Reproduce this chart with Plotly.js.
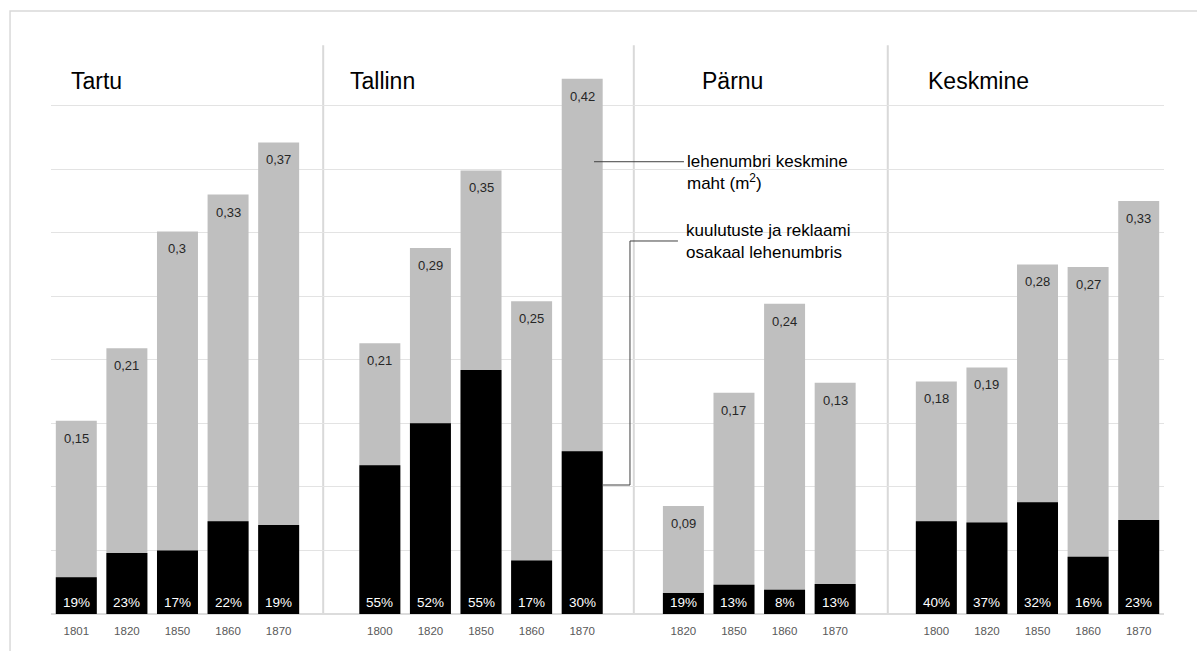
<!DOCTYPE html>
<html>
<head>
<meta charset="utf-8">
<script src="https://cdn.plot.ly/plotly-3.0.1.min.js"></script>
<style>
  html, body { margin: 0; padding: 0; background: #ffffff; }
  #chart { width: 1197px; height: 651px; }
</style>
</head>
<body>
<div id="chart"></div>
<script>
// ---- data ----
const groupNames = ["Tartu", "Tallinn", "Pärnu", "Keskmine"];

const tartuYears = ["1801", "1820", "1850", "1860", "1870"];
const tartuArea = [0.152, 0.209, 0.301, 0.330, 0.371];
const tartuAds = [0.029, 0.048, 0.050, 0.073, 0.070];
const tartuAreaLabels = ["0,15", "0,21", "0,3", "0,33", "0,37"];
const tartuShareLabels = ["19%", "23%", "17%", "22%", "19%"];

const tallinnYears = ["1800", "1820", "1850", "1860", "1870"];
const tallinnArea = [0.213, 0.288, 0.349, 0.246, 0.421];
const tallinnAds = [0.117, 0.150, 0.192, 0.042, 0.128];
const tallinnAreaLabels = ["0,21", "0,29", "0,35", "0,25", "0,42"];
const tallinnShareLabels = ["55%", "52%", "55%", "17%", "30%"];

const parnuYears = ["1820", "1850", "1860", "1870"];
const parnuArea = [0.085, 0.174, 0.244, 0.182];
const parnuAds = [0.0165, 0.023, 0.019, 0.0236];
const parnuAreaLabels = ["0,09", "0,17", "0,24", "0,13"];
const parnuShareLabels = ["19%", "13%", "8%", "13%"];

const keskYears = ["1800", "1820", "1850", "1860", "1870"];
const keskArea = [0.183, 0.194, 0.275, 0.273, 0.325];
const keskAds = [0.073, 0.072, 0.088, 0.045, 0.074];
const keskAreaLabels = ["0,18", "0,19", "0,28", "0,27", "0,33"];
const keskShareLabels = ["40%", "37%", "32%", "16%", "23%"];

const areaLegend = "lehenumbri keskmine<br>maht (m<sup>2</sup>)";
const adsLegend = "kuulutuste ja reklaami<br>osakaal lehenumbris";

// ---- build categories (unique keys, with empty gap slots between groups) ----
const groups = [
  { name: groupNames[0], years: tartuYears, area: tartuArea, ads: tartuAds, al: tartuAreaLabels, sl: tartuShareLabels },
  { name: groupNames[1], years: tallinnYears, area: tallinnArea, ads: tallinnAds, al: tallinnAreaLabels, sl: tallinnShareLabels },
  { name: groupNames[2], years: parnuYears, area: parnuArea, ads: parnuAds, al: parnuAreaLabels, sl: parnuShareLabels },
  { name: groupNames[3], years: keskYears, area: keskArea, ads: keskAds, al: keskAreaLabels, sl: keskShareLabels }
];

const cats = [], tickVals = [], tickText = [];
const xs = [], areaY = [], adsY = [], areaLab = [], shareLab = [];
const firstIdx = [];
groups.forEach((g, gi) => {
  if (gi > 0) { cats.push("gap" + gi); }
  firstIdx.push(cats.length);
  g.years.forEach((yr, i) => {
    const key = g.name + " " + yr;
    cats.push(key); tickVals.push(key); tickText.push(yr);
    xs.push(key); areaY.push(g.area[i]); adsY.push(g.ads[i]);
    areaLab.push(g.al[i]); shareLab.push(g.sl[i]);
  });
});

const traces = [
  { type: "bar", x: xs, y: areaY, marker: { color: "#bfbfbf" }, hoverinfo: "x+y", showlegend: false },
  { type: "bar", x: xs, y: adsY, marker: { color: "#000000" }, hoverinfo: "x+y", showlegend: false }
];

const FONT = "Liberation Sans, Arial, sans-serif";
const annotations = [];
xs.forEach((k, i) => {
  annotations.push({ x: k, y: areaY[i], xref: "x", yref: "y", text: areaLab[i], showarrow: false,
    yanchor: "top", yshift: -8, font: { family: FONT, size: 13, color: "#262626" } });
  annotations.push({ x: k, y: 0, xref: "x", yref: "y", text: shareLab[i], showarrow: false,
    yanchor: "bottom", yshift: 2, font: { family: FONT, size: 13.5, color: "#ffffff" } });
});

// group titles
const titleX = [0.0160, 0.2665, 0.5831, 0.7862];
groupNames.forEach((n, i) => {
  annotations.push({ x: titleX[i], y: 0.9318, xref: "paper", yref: "paper", text: n, showarrow: false,
    xanchor: "left", yanchor: "middle", font: { family: FONT, size: 23, color: "#000000" } });
});

annotations.push({ x: 0.5696, y: 0.7727, xref: "paper", yref: "paper", text: areaLegend, showarrow: false,
  xanchor: "left", yanchor: "middle", align: "left", font: { family: FONT, size: 17, color: "#000000" } });
annotations.push({ x: 0.5687, y: 0.6512, xref: "paper", yref: "paper", text: adsLegend, showarrow: false,
  xanchor: "left", yanchor: "middle", align: "left", font: { family: FONT, size: 17, color: "#000000" } });

const sepX = [firstIdx[1] - 1.12, firstIdx[2] - 0.98, firstIdx[3] - 0.96];
const shapes = [];
// outer frame
shapes.push({ type: "rect", xref: "paper", yref: "paper", x0: -0.0368, x1: 1.2, y0: -0.2, y1: 1.0542,
  line: { color: "#d9d9d9", width: 1.5 }, fillcolor: "rgba(0,0,0,0)", layer: "below" });
sepX.forEach(sx => {
  shapes.push({ type: "line", xref: "x", yref: "y", x0: sx, x1: sx, y0: 0, y1: 0.4475,
    line: { color: "#d9d9d9", width: 2 }, layer: "below" });
});
// callout lines
shapes.push({ type: "line", xref: "paper", yref: "paper", x0: 0.4879, x1: 0.5687, y0: 0.7907, y1: 0.7907,
  line: { color: "#404040", width: 1 } });
shapes.push({ type: "path", xref: "paper", yref: "paper",
  path: "M 0.4960,0.2255 L 0.5202,0.2255 L 0.5202,0.6521 L 0.5633,0.6521",
  line: { color: "#404040", width: 1 } });

const layout = {
  width: 1197, height: 651,
  margin: { l: 51, r: 33, t: 42, b: 37 },
  paper_bgcolor: "#ffffff", plot_bgcolor: "#ffffff",
  barmode: "overlay", bargap: 0.19,
  font: { family: FONT },
  xaxis: {
    type: "category", categoryorder: "array", categoryarray: cats,
    tickmode: "array", tickvals: tickVals, ticktext: tickText,
    tickfont: { size: 11.5, color: "#595959" },
    ticks: "outside", ticklen: 6, tickcolor: "rgba(0,0,0,0)",
    showgrid: false, showline: false, zeroline: false,
    range: [-0.5, cats.length - 0.5], fixedrange: true
  },
  yaxis: {
    range: [0, 0.45], dtick: 0.05, tick0: 0,
    showticklabels: false, ticks: "",
    showgrid: true, gridcolor: "#e3e3e3", gridwidth: 1,
    zeroline: true, zerolinecolor: "#dcdcdc", zerolinewidth: 1.5,
    showline: false, fixedrange: true
  },
  shapes: shapes,
  annotations: annotations
};

Plotly.newPlot("chart", traces, layout, { displayModeBar: false, staticPlot: true }).then(gd => {
  gd.querySelectorAll("text").forEach(t => { if (!t.textContent.trim()) t.remove(); });
});
</script>
</body>
</html>
